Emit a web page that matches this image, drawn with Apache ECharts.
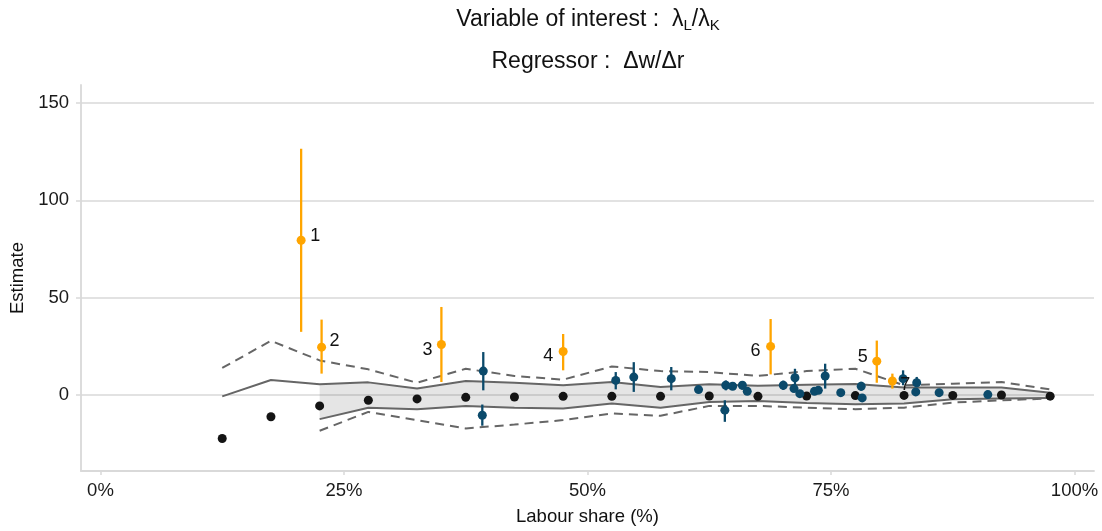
<!DOCTYPE html>
<html>
<head>
<meta charset="utf-8">
<script src="https://cdn.jsdelivr.net/npm/echarts@6/dist/echarts.min.js"></script>
<style>
html,body{margin:0;padding:0;background:#fff;}
#chart{width:1102px;height:531px;}
</style>
</head>
<body>
<div id="chart"></div>
<script>
// ---------------- data ----------------
const xTicks = [0, 25, 50, 75, 100];
const yTicks = [0, 50, 100, 150];

// grid of labour shares (black points + envelope)
const xGrid = [12.5, 17.5, 22.5, 27.5, 32.5, 37.5, 42.5, 47.5, 52.5, 57.5, 62.5, 67.5, 72.5, 77.5, 82.5, 87.5, 92.5, 97.5];
const blackY = [-22.6, -11.4, -5.8, -2.9, -2.2, -1.4, -1.2, -0.9, -0.9, -0.9, -0.7, -0.9, -0.7, -0.5, -0.4, -0.4, -0.2, -0.8];

// envelope (upper lines start at 12.5, lower lines at 22.5)
const upperSolid  = [-0.9, 7.5, 5.3, 6.3, 3.2, 7.0, 6.1, 4.8, 6.5, 3.9, 5.3, 4.6, 5.1, 5.5, 3.6, 3.6, 3.6, 1.0];
const upperDashed = [13.7, 27.7, 17.6, 13.0, 6.1, 13.3, 9.6, 7.7, 14.5, 12.1, 11.6, 9.6, 12.1, 13.3, 4.8, 5.6, 6.5, 2.7];
const xLower      = [22.5, 27.5, 32.5, 37.5, 42.5, 47.5, 52.5, 57.5, 62.5, 67.5, 72.5, 77.5, 82.5, 87.5, 92.5, 97.5];
const lowerSolid  = [-12.6, -6.8, -7.5, -5.8, -6.8, -7.2, -4.6, -6.8, -3.8, -3.3, -4.3, -5.0, -4.6, -2.4, -2.0, -1.7];
const lowerDashed = [-18.6, -8.9, -13.1, -17.4, -15.4, -13.1, -9.7, -10.9, -5.8, -5.8, -6.7, -7.5, -6.7, -4.1, -2.9, -2.0];

// highlighted (orange) estimates
const orangeLabel = ['1', '2', '3', '4', '5', '6', '7'];
const orangeX  = [20.6, 22.7, 35.0, 47.5, 79.7, 68.8, 81.3];
const orangeY  = [79.4, 24.4, 25.8, 22.2, 17.2, 24.8, 7.0];
const orangeLo = [32.3, 10.8, 6.5, 12.5, 6.1, 10.4, 3.1];
const orangeHi = [126.5, 38.6, 45.1, 31.2, 27.8, 38.9, 10.8];

// other (blue) estimates
const blueX  = [39.3, 39.2, 52.9, 54.75, 58.6, 61.4, 64.1, 64.2, 64.9, 65.9, 66.4, 70.1, 71.3, 71.2, 71.8, 73.3, 73.7, 74.4, 76.0, 78.1, 78.2, 82.4, 83.8, 83.7, 86.1, 91.1];
const blueY  = [12.1, -10.6, 7.3, 9.0, 8.2, 2.6, -8.0, 4.8, 4.3, 4.8, 1.7, 4.8, 8.7, 3.1, 0.5, 1.7, 2.2, 9.6, 1.0, 4.3, -1.7, 8.2, 6.1, 1.4, 1.0, 0.0];
const blueLo = [2.2, -16.0, 2.7, 1.4, 2.2, 2.0, -14.0, 2.2, 2.5, 2.5, 1.0, 2.4, 4.8, 2.0, 0.0, 1.2, 1.7, 3.1, 0.5, 2.0, -2.2, 4.8, 3.9, 0.9, 0.5, -0.5];
const blueHi = [21.9, -5.1, 11.6, 16.7, 14.2, 3.2, -2.9, 7.3, 6.0, 7.0, 2.4, 7.2, 13.3, 4.2, 1.0, 2.2, 2.7, 15.9, 1.5, 6.6, -1.2, 12.5, 9.1, 1.9, 1.5, 0.5];

// ---------------- styling / layout ----------------
const FONT = "'Liberation Sans', Arial, sans-serif";
const ORANGE = '#FFA500';
const BLUE = '#0b4a6b';
const BLACK = '#141414';
const LINE = '#666666';
const AXIS = '#d9d9d9';
const labelOffsets = {
  '1': [14, -4], '2': [13, -6], '3': [-14, 6], '4': [-15, 5],
  '5': [-14, -4], '6': [-15, 5], '7': [13, 4]
};

const zip = (xs, ys) => xs.map((x, i) => [x, ys[i]]);

function errorBars(xs, lo, hi, color, z) {
  return {
    type: 'custom',
    z: z,
    silent: true,
    data: xs.map((x, i) => [x, lo[i], hi[i]]),
    encode: { x: 0, y: [1, 2] },
    renderItem: function (params, api) {
      const a = api.coord([api.value(0), api.value(1)]);
      const b = api.coord([api.value(0), api.value(2)]);
      return {
        type: 'line',
        shape: { x1: a[0], y1: a[1], x2: b[0], y2: b[1] },
        style: { stroke: color, lineWidth: 2.3 }
      };
    }
  };
}

// shaded ribbon between the solid lines (where both exist)
const bandData = xLower.map((x, i) => [x, lowerSolid[i], upperSolid[i + 2]]);

const chart = echarts.init(document.getElementById('chart'), null, { renderer: 'canvas' });

const option = {
  animation: false,
  backgroundColor: '#ffffff',
  textStyle: { fontFamily: FONT },
  graphic: [
    {
      type: 'text', x: 588, y: 20, silent: true,
      style: {
        text: '{a|Variable of interest :  λ}{s|L}{a|/λ}{s|K}',
        align: 'center', verticalAlign: 'middle',
        fill: '#111',
        rich: {
          a: { fontSize: 23, fontFamily: FONT, lineHeight: 27, fill: '#111' },
          s: { fontSize: 15, fontFamily: FONT, lineHeight: 15, verticalAlign: 'bottom', fill: '#111' }
        }
      }
    },
    {
      type: 'text', x: 588, y: 62, silent: true,
      style: {
        text: 'Regressor :  Δw/Δr',
        align: 'center', verticalAlign: 'middle',
        fill: '#111',
        font: '23px ' + FONT
      }
    }
  ],
  grid: { left: 81, right: 8, top: 85, bottom: 58, containLabel: false },
  xAxis: {
    type: 'value', min: -2, max: 102,
    name: 'Labour share (%)', nameLocation: 'middle', nameGap: 36,
    nameTextStyle: { fontSize: 18.5, color: '#111', fontFamily: FONT },
    axisLine: { show: true, onZero: false, lineStyle: { color: AXIS, width: 1.8 } },
    axisTick: { show: true, customValues: xTicks, length: 4, lineStyle: { color: AXIS, width: 1.5 } },
    axisLabel: { customValues: xTicks, formatter: v => v + '%', fontSize: 18.5, color: '#1a1a1a', margin: 10, fontFamily: FONT },
    splitLine: { show: false }
  },
  yAxis: {
    type: 'value', min: -39.3, max: 159.3,
    name: 'Estimate', nameLocation: 'middle', nameGap: 54, nameRotate: 90,
    nameTextStyle: { fontSize: 18.5, color: '#111', fontFamily: FONT },
    axisLine: { show: true, onZero: false, lineStyle: { color: AXIS, width: 1.8 } },
    axisTick: { show: true, customValues: yTicks, length: 5, lineStyle: { color: AXIS, width: 1.5 } },
    axisLabel: { customValues: yTicks, fontSize: 18.5, color: '#1a1a1a', margin: 12, fontFamily: FONT },
    splitLine: { show: false }
  },
  series: [
    // horizontal grid lines
    {
      name: 'gridlines', type: 'line', z: 0, silent: true,
      data: zip(xLower, lowerSolid), symbol: 'none',
      lineStyle: { opacity: 0 },
      markLine: {
        silent: true, z: 0, symbol: ['none', 'none'], animation: false,
        label: { show: false },
        lineStyle: { color: AXIS, width: 1.5, type: 'solid' },
        data: yTicks.map(v => ({ yAxis: v }))
      }
    },
    // ribbon
    {
      name: 'band', type: 'custom', z: 1, silent: true,
      data: bandData,
      encode: { x: 0, y: [1, 2] },
      renderItem: function (params, api) {
        if (params.dataIndex !== 0) return null;
        const top = bandData.map(d => api.coord([d[0], d[2]]));
        const bot = bandData.map(d => api.coord([d[0], d[1]])).reverse();
        return {
          type: 'polygon',
          shape: { points: top.concat(bot) },
          style: { fill: 'rgba(0,0,0,0.1)', stroke: 'none' }
        };
      }
    },
    { type: 'line', z: 3, silent: true, symbol: 'none', data: zip(xGrid, upperSolid), lineStyle: { color: LINE, width: 2 } },
    { type: 'line', z: 3, silent: true, symbol: 'none', data: zip(xLower, lowerSolid), lineStyle: { color: LINE, width: 2 } },
    { type: 'line', z: 3, silent: true, symbol: 'none', data: zip(xGrid, upperDashed), lineStyle: { color: LINE, width: 2, type: [9, 6] } },
    { type: 'line', z: 3, silent: true, symbol: 'none', data: zip(xLower, lowerDashed), lineStyle: { color: LINE, width: 2, type: [9, 6] } },
    {
      type: 'scatter', z: 4, silent: true, symbolSize: 9,
      data: zip(xGrid, blackY), itemStyle: { color: BLACK, opacity: 1 }
    },
    errorBars(blueX, blueLo, blueHi, BLUE, 5),
    {
      type: 'scatter', z: 6, silent: true, symbolSize: 9,
      data: zip(blueX, blueY), itemStyle: { color: BLUE, opacity: 1 }
    },
    errorBars(orangeX, orangeLo, orangeHi, ORANGE, 7),
    {
      type: 'scatter', z: 8, silent: true, symbolSize: 9,
      data: orangeX.map((x, i) => ({
        value: [x, orangeY[i]],
        label: {
          show: true, formatter: orangeLabel[i], position: 'inside',
          offset: labelOffsets[orangeLabel[i]],
          fontSize: 18, color: '#111', fontFamily: FONT
        }
      })),
      itemStyle: { color: ORANGE, opacity: 1 }
    }
  ]
};
chart.setOption(option);
</script>
</body>
</html>
